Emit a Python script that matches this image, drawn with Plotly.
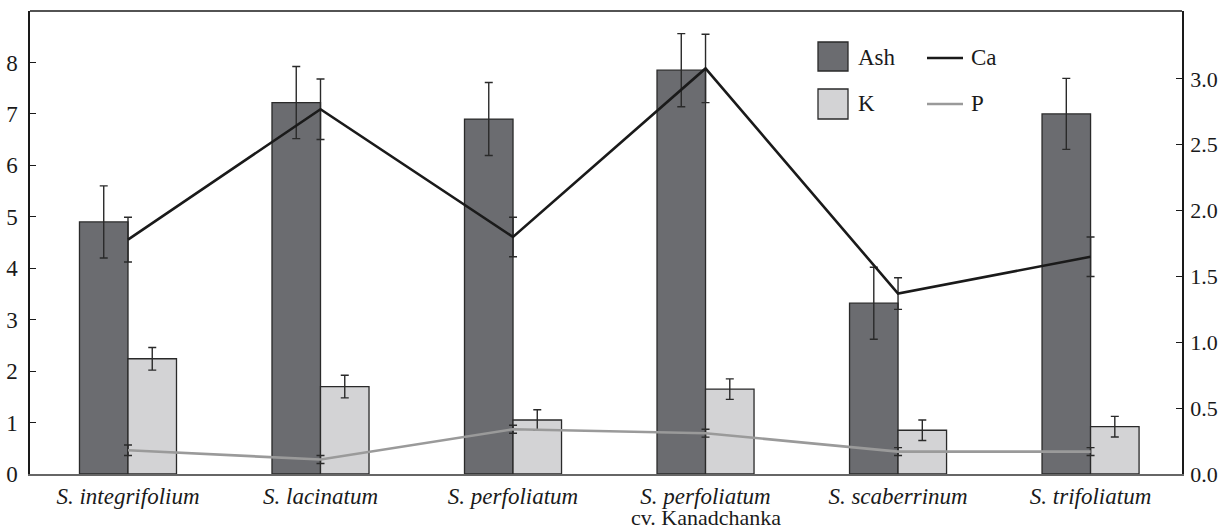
import plotly.graph_objects as go

categories = ["S. integrifolium", "S. lacinatum", "S. perfoliatum",
              "S. perfoliatum cv. Kanadchanka", "S. scaberrinum", "S. trifoliatum"]
tick_labels = ["<i>S. integrifolium</i>", "<i>S. lacinatum</i>", "<i>S. perfoliatum</i>",
               "<i>S. perfoliatum</i>", "<i>S. scaberrinum</i>", "<i>S. trifoliatum</i>"]
cultivar_note = "cv. Kanadchanka"

ash = [4.90, 7.22, 6.90, 7.85, 3.32, 7.00]
ash_err = [0.70, 0.70, 0.71, 0.71, 0.70, 0.69]
k_vals = [2.24, 1.70, 1.05, 1.65, 0.85, 0.92]
k_err = [0.22, 0.22, 0.20, 0.20, 0.20, 0.20]
ca = [1.78, 2.77, 1.80, 3.08, 1.37, 1.65]
ca_err = [0.17, 0.23, 0.15, 0.26, 0.12, 0.15]
p_vals = [0.18, 0.11, 0.34, 0.31, 0.17, 0.17]
p_err = [0.04, 0.03, 0.03, 0.03, 0.03, 0.03]

idx = list(range(len(categories)))
bw = 0.252
FONT = "Liberation Serif"
err_style = dict(type="data", color="#2a2a2a", thickness=1.4, width=4)

fig = go.Figure()
fig.add_trace(go.Bar(x=[i - bw / 2 for i in idx], y=ash, width=bw, name="Ash",
                     marker=dict(color="#6b6c70", line=dict(color="#2a2a2a", width=1.3)),
                     error_y=dict(array=ash_err, **err_style)))
fig.add_trace(go.Bar(x=[i + bw / 2 for i in idx], y=k_vals, width=bw, name="K",
                     marker=dict(color="#d3d3d5", line=dict(color="#2a2a2a", width=1.3)),
                     error_y=dict(array=k_err, **err_style)))
fig.add_trace(go.Scatter(x=idx, y=ca, yaxis="y2", mode="lines", name="Ca",
                         line=dict(color="#1a1a1a", width=2.6),
                         error_y=dict(array=ca_err, **err_style)))
fig.add_trace(go.Scatter(x=idx, y=p_vals, yaxis="y2", mode="lines", name="P",
                         line=dict(color="#9a9a9a", width=2.6),
                         error_y=dict(array=p_err, **err_style)))

L, R, T, B = 30, 39, 11, 57
W, H = 1221, 531
pw, ph = W - L - R, H - T - B

def px(x):
    return (x - L) / pw

def py(y):
    return (H - B - y) / ph

txt = dict(family=FONT, size=23, color="#1a1a1a")
shapes = [
    dict(type="rect", xref="paper", yref="paper", x0=px(818), x1=px(848), y0=py(71), y1=py(42),
         fillcolor="#6b6c70", line=dict(color="#2a2a2a", width=1.3)),
    dict(type="rect", xref="paper", yref="paper", x0=px(818), x1=px(848), y0=py(119), y1=py(89),
         fillcolor="#d3d3d5", line=dict(color="#2a2a2a", width=1.3)),
    dict(type="line", xref="paper", yref="paper", x0=px(927), x1=px(963), y0=py(58), y1=py(58),
         line=dict(color="#1a1a1a", width=2.6)),
    dict(type="line", xref="paper", yref="paper", x0=px(927), x1=px(963), y0=py(104), y1=py(104),
         line=dict(color="#9a9a9a", width=2.6)),
    dict(type="line", xref="paper", yref="paper", x0=0, x1=1, y0=1, y1=1,
         line=dict(color="#1a1a1a", width=1.5)),
]
annotations = [
    dict(xref="paper", yref="paper", x=px(856), y=py(57), text="Ash", showarrow=False,
         xanchor="left", yanchor="middle", font=txt),
    dict(xref="paper", yref="paper", x=px(969), y=py(57), text="Ca", showarrow=False,
         xanchor="left", yanchor="middle", font=txt),
    dict(xref="paper", yref="paper", x=px(856), y=py(104), text="K", showarrow=False,
         xanchor="left", yanchor="middle", font=txt),
    dict(xref="paper", yref="paper", x=px(969), y=py(104), text="P", showarrow=False,
         xanchor="left", yanchor="middle", font=txt),
    dict(xref="x", yref="paper", x=idx[3], y=py(531), text=cultivar_note, showarrow=False,
         xanchor="center", yanchor="bottom", borderpad=0,
         font=dict(family=FONT, size=22, color="#1a1a1a")),
]

tickfont = dict(family=FONT, size=23, color="#1a1a1a")
fig.update_layout(
    width=W, height=H,
    margin=dict(l=L, r=R, t=T, b=B, pad=0, autoexpand=False),
    paper_bgcolor="white", plot_bgcolor="white",
    showlegend=False, barmode="overlay",
    font=dict(family=FONT, size=23, color="#1a1a1a"),
    shapes=shapes, annotations=annotations,
    xaxis=dict(range=[-0.509, 5.475], tickvals=idx, ticktext=tick_labels, automargin=False,
               showgrid=False, zeroline=False, showline=True, linecolor="#666666", linewidth=2,
               ticks="", ticklabelstandoff=0, tickfont=tickfont),
    yaxis=dict(range=[0, 9], tickvals=[0, 1, 2, 3, 4, 5, 6, 7, 8], showgrid=False, automargin=False,
               zeroline=False, showline=True, linecolor="#1a1a1a", linewidth=1.5,
               ticks="inside", ticklen=6, tickcolor="#1a1a1a", tickwidth=1.2,
               ticklabelstandoff=6, tickfont=tickfont),
    yaxis2=dict(range=[0, 3.516], overlaying="y", side="right", automargin=False,
                tickvals=[0, 0.5, 1.0, 1.5, 2.0, 2.5, 3.0], tickformat=".1f",
                showgrid=False, zeroline=False, showline=True, linecolor="#1a1a1a", linewidth=1.5,
                ticks="inside", ticklen=6, tickcolor="#1a1a1a", tickwidth=1.2,
                ticklabelstandoff=2, tickfont=dict(family=FONT, size=22, color="#1a1a1a")),
)

fig.write_html("out.html", config={"displayModeBar": False},
               post_script="document.body.style.margin='0';document.body.style.overflow='hidden';")
